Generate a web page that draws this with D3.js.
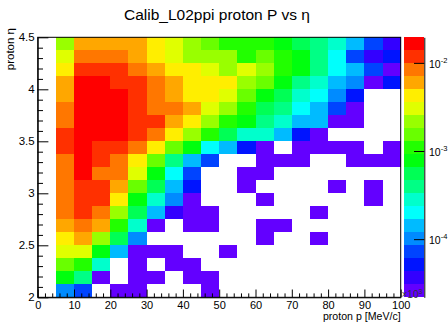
<!DOCTYPE html>
<html><head><meta charset="utf-8">
<script src="https://cdn.jsdelivr.net/npm/d3@7"></script>
<style>
body{margin:0;background:#fff}
svg{display:block}
text{font-family:"Liberation Sans",Arial,Helvetica,sans-serif;fill:#000}
</style>
</head><body>
<svg id="c" width="448" height="322"></svg>
<script>
// ---- data ----
const titleText = "Calib_L02ppi proton P vs η";
const xTitle = "proton p [MeV/c]";
const yTitle = "proton η";
const pEdges = [0,5,10,15,20,25,30,35,40,45,50,55,60,65,70,75,80,85,90,95,100];
const etaEdges = [2,2.125,2.25,2.375,2.5,2.625,2.75,2.875,3,3.125,3.25,3.375,3.5,3.625,3.75,3.875,4,4.125,4.25,4.375,4.5];
const xTicks = [0,10,20,30,40,50,60,70,80,90,100];
const yTicks = [2,2.5,3,3.5,4,4.5];
const zTicks = [1e-4,1e-3,1e-2];
const zRange = [2.19e-5, 0.0195];
// density per (eta bin row, p bin column); rows from eta=2 upward, 0 = empty bin
const density = [
 [0,1.0e-4,7.2e-5,0,2.5e-5,2.5e-5,0,0,0,2.5e-5, 0,0,0,0,0,0,0,0,0,0],
 [0,7.7e-4,3.9e-4,2.5e-5,0,2.5e-5,2.5e-5,0,2.5e-5,2.5e-5, 0,0,0,0,0,0,0,0,0,0],
 [0,1.5e-3,1.1e-3,2.8e-4,0,2.5e-5,0,2.5e-5,2.5e-5,0, 0,0,0,0,0,0,0,0,0,0],
 [0,3.0e-3,3.0e-3,7.7e-4,1.4e-4,2.5e-5,2.5e-5,2.5e-5,0,0, 2.5e-5,0,0,0,0,0,0,0,0,0],
 [0,4.2e-3,5.9e-3,2.1e-3,5.5e-4,1.0e-4,0,0,0,0, 0,0,2.5e-5,0,0,2.5e-5,0,0,0,0],
 [0,5.9e-3,8.3e-3,5.9e-3,1.1e-3,2.8e-4,2.5e-5,0,2.5e-5,2.5e-5, 0,0,2.5e-5,2.5e-5,0,0,0,0,0,0],
 [0,8.3e-3,1.17e-2,8.3e-3,2.1e-3,5.5e-4,1.4e-4,3.6e-5,2.5e-5,2.5e-5, 0,0,0,0,0,2.5e-5,0,0,0,0],
 [0,8.3e-3,1.17e-2,1.17e-2,4.2e-3,7.7e-4,2.8e-4,1.0e-4,2.5e-5,0, 0,0,2.5e-5,0,0,0,0,0,2.5e-5,0],
 [0,8.3e-3,1.17e-2,1.17e-2,5.9e-3,1.5e-3,5.5e-4,1.4e-4,5.1e-5,0, 0,2.5e-5,0,0,0,0,2.5e-5,0,2.5e-5,0],
 [0,8.3e-3,1.64e-2,8.3e-3,8.3e-3,3.0e-3,7.7e-4,2.0e-4,7.2e-5,0, 0,2.5e-5,2.5e-5,0,0,0,0,0,0,0],
 [0,8.3e-3,1.64e-2,1.17e-2,8.3e-3,4.2e-3,1.5e-3,3.9e-4,1.4e-4,7.2e-5, 0,0,2.5e-5,2.5e-5,2.5e-5,0,0,2.5e-5,2.5e-5,2.5e-5],
 [0,1.17e-2,1.64e-2,1.17e-2,1.17e-2,8.3e-3,4.2e-3,1.5e-3,7.7e-4,2.0e-4, 1.4e-4,5.1e-5,2.5e-5,0,2.5e-5,2.5e-5,2.5e-5,2.5e-5,0,2.5e-5],
 [0,1.17e-2,1.64e-2,1.64e-2,1.64e-2,1.17e-2,8.3e-3,4.2e-3,2.1e-3,1.1e-3, 5.5e-4,2.8e-4,2.8e-4,1.4e-4,5.1e-5,2.5e-5,0,0,0,0],
 [0,8.3e-3,1.64e-2,1.64e-2,1.64e-2,1.17e-2,1.17e-2,5.9e-3,4.2e-3,2.1e-3, 1.1e-3,7.7e-4,3.9e-4,2.8e-4,1.4e-4,1.4e-4,2.5e-5,2.5e-5,0,0],
 [0,8.3e-3,1.64e-2,1.64e-2,1.64e-2,1.17e-2,8.3e-3,8.3e-3,5.9e-3,3.0e-3, 2.1e-3,1.1e-3,5.5e-4,3.9e-4,2.0e-4,1.4e-4,7.2e-5,2.5e-5,0,0],
 [0,5.9e-3,1.64e-2,1.64e-2,1.64e-2,1.17e-2,8.3e-3,5.9e-3,4.2e-3,4.2e-3, 3.0e-3,1.5e-3,7.7e-4,5.5e-4,2.8e-4,2.0e-4,1.0e-4,5.1e-5,0,0],
 [0,5.9e-3,1.64e-2,1.64e-2,1.17e-2,1.17e-2,8.3e-3,5.9e-3,4.2e-3,4.2e-3, 4.2e-3,2.1e-3,1.5e-3,7.7e-4,3.9e-4,2.8e-4,1.4e-4,1.0e-4,2.5e-5,5.1e-5],
 [0,4.2e-3,1.17e-2,1.17e-2,1.17e-2,8.3e-3,5.9e-3,4.2e-3,4.2e-3,3.0e-3, 2.1e-3,3.0e-3,2.1e-3,1.1e-3,7.7e-4,3.9e-4,2.0e-4,1.4e-4,7.2e-5,2.5e-5],
 [0,3.0e-3,8.3e-3,8.3e-3,8.3e-3,5.9e-3,4.2e-3,3.0e-3,2.1e-3,2.1e-3, 2.1e-3,1.1e-3,1.5e-3,1.1e-3,7.7e-4,3.9e-4,2.0e-4,7.2e-5,3.6e-5,5.1e-5],
 [0,2.1e-3,5.9e-3,5.9e-3,5.9e-3,5.9e-3,4.2e-3,3.0e-3,2.1e-3,1.5e-3, 1.1e-3,1.1e-3,1.1e-3,7.7e-4,5.5e-4,3.9e-4,2.8e-4,1.4e-4,7.2e-5,3.6e-5]
];

// ---- layout ----
const L = 37.7, R = 400.7, T = 37.3, B = 297.3;
const palX0 = 403.5, palX1 = 424.3;
const nContours = 20;

const svg = d3.select('#c');
const x = d3.scaleLinear().domain([0,100]).range([L,R]);
const y = d3.scaleLinear().domain([2,4.5]).range([B,T]);
const zLevel = d3.scaleLog().domain(zRange).range([0,nContours]);
const zPix = d3.scaleLog().domain(zRange).range([B,T]);
const bandY = d3.scaleLinear().domain([0,nContours]).range([B,T]);

// ROOT "pretty" palette (50 hues, 280 -> 0) sampled for 20 contours
const hueOf = k => 280 - (Math.floor((k+0.99)*50/nContours)+1)*5.6;
const palette = d3.range(nContours).map(k => d3.hsl(hueOf(k),1,0.5).formatHex());
const levelOf = v => Math.max(0, Math.min(nContours-1, Math.floor(zLevel(v))));

const cells = [];
density.forEach((row,j) => row.forEach((v,i) => { if (v > 0) cells.push({i,j,v}); }));

svg.append('g').selectAll('rect').data(cells).join('rect')
  .attr('x', d => x(pEdges[d.i]))
  .attr('y', d => y(etaEdges[d.j+1]))
  .attr('width', d => x(pEdges[d.i+1]) - x(pEdges[d.i]))
  .attr('height', d => y(etaEdges[d.j]) - y(etaEdges[d.j+1]))
  .attr('fill', d => palette[levelOf(d.v)])
  .attr('shape-rendering','crispEdges');

// frame
svg.append('rect').attr('x',L).attr('y',T).attr('width',R-L).attr('height',B-T)
  .attr('fill','none').attr('stroke','#000').attr('stroke-width',1);

// x axis
const xMinor = d3.range(0,101,2).filter(v => v % 10 !== 0);
const gx = svg.append('g').attr('transform',`translate(0,${B})`);
gx.call(d3.axisBottom(x).tickValues(xMinor).tickSizeInner(-3.9).tickSizeOuter(0).tickFormat(''));
gx.call(g => g.selectAll('.domain').remove());
const gx2 = svg.append('g').attr('transform',`translate(0,${B})`)
  .call(d3.axisBottom(x).tickValues(xTicks).tickSizeInner(-7.8).tickSizeOuter(0).tickPadding(3.5).tickFormat(d3.format('d')));
gx2.selectAll('text').attr('font-size',11).attr('fill','#000');

// y axis
const yMinor = d3.range(20,46,1).map(v => v/10).filter(v => Math.abs(v*2 - Math.round(v*2)) > 1e-6);
const gy = svg.append('g').attr('transform',`translate(${L},0)`);
gy.call(d3.axisLeft(y).tickValues(yMinor).tickSizeInner(-5.3).tickSizeOuter(0).tickFormat(''));
gy.call(g => g.selectAll('.domain').remove());
const gy2 = svg.append('g').attr('transform',`translate(${L},0)`)
  .call(d3.axisLeft(y).tickValues(yTicks).tickSizeInner(-10.7).tickSizeOuter(0).tickPadding(3).tickFormat(d3.format('')));
gy2.selectAll('text').attr('font-size',11.5).attr('fill','#000');
svg.selectAll('.domain, .tick line').attr('stroke','#000');

// palette
svg.append('g').selectAll('rect').data(d3.range(nContours)).join('rect')
  .attr('x',palX0).attr('width',palX1-palX0)
  .attr('y', k => bandY(k+1)).attr('height', k => bandY(k)-bandY(k+1))
  .attr('fill', k => palette[k]).attr('shape-rendering','crispEdges');

const zMinor = [];
[-5,-4,-3,-2].forEach(n => [2,3,4,5,6,7,8,9].forEach(m => {
  const v = m*Math.pow(10,n);
  if (v > zRange[0] && v < zRange[1]) zMinor.push(v);
}));
const gz = svg.append('g').attr('transform',`translate(${palX1},0)`);
gz.call(d3.axisLeft(zPix).tickValues(zMinor).tickSizeInner(5).tickSizeOuter(0).tickFormat(''));
gz.call(d3.axisLeft(zPix).tickValues(zTicks).tickSizeInner(10.3).tickSizeOuter(0).tickFormat(''));
gz.selectAll('.domain, line').attr('stroke','#000');

const zl = svg.append('g').selectAll('text').data(zTicks).join('text')
  .attr('x', 429).attr('y', d => zPix(d) + 5).attr('font-size', 10.5);
zl.append('tspan').text('10');
zl.append('tspan').attr('dy',-5).attr('font-size',7.5).text(d => String(Math.round(Math.log10(d))));

// exponent marker at the x-axis end
const ex = svg.append('text').attr('x',401.5).attr('y',297.5).attr('font-size',10).style('fill','#333');
ex.append('tspan').text('×10');
ex.append('tspan').attr('dy',-4).attr('font-size',7).text('3');

// titles
svg.append('text').attr('x',124).attr('y',20).attr('font-size',15.5).text(titleText);
svg.append('text').attr('x',R).attr('y',320.3).attr('text-anchor','end').attr('font-size',10.6).text(xTitle);
svg.append('text').attr('transform','translate(14,28) rotate(-90)').attr('text-anchor','end').attr('font-size',11.5).text(yTitle);
</script>
</body></html>
